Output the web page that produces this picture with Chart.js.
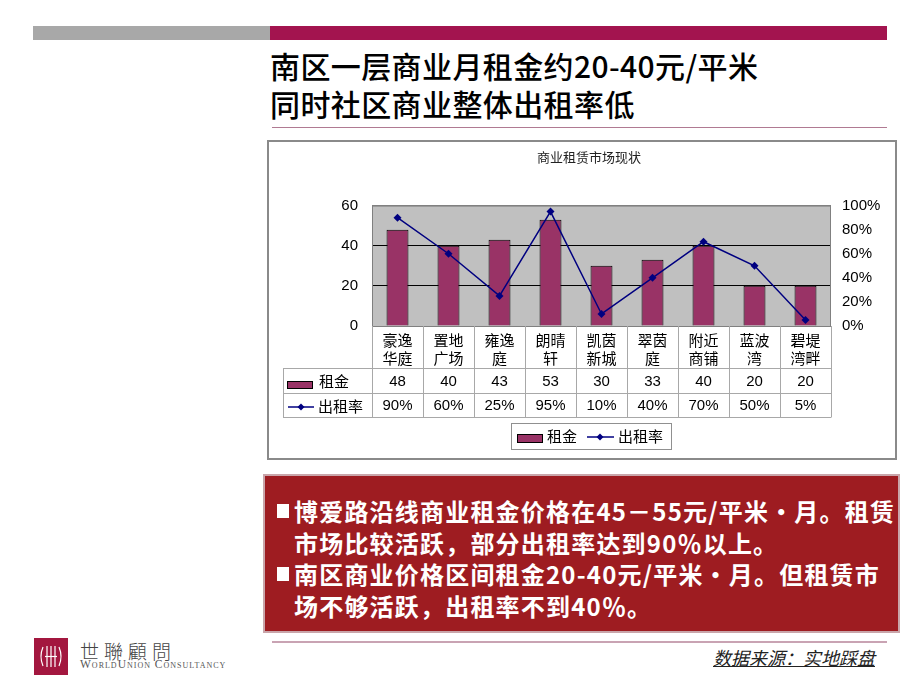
<!DOCTYPE html>
<html>

<head>
  <meta charset="utf-8">
  <title>商业租赁市场现状</title>
  <style>
    body {
      margin: 0;
      width: 920px;
      height: 690px;
      position: relative;
      background: #fff;
      font-family: "Noto Sans CJK SC", sans-serif;
      overflow: hidden;
    }

    .bar-gray {
      position: absolute;
      left: 33px;
      top: 26px;
      width: 237px;
      height: 14px;
      background: #a8a8a8;
    }

    .bar-red {
      position: absolute;
      left: 270px;
      top: 26px;
      width: 617px;
      height: 14px;
      background: #a3144f;
    }

    .headline {
      position: absolute;
      left: 270px;
      top: 46px;
      font-size: 30px;
      line-height: 38px;
      font-weight: 500;
      letter-spacing: 0.4px;
      color: #000;
      white-space: nowrap;
    }

    .rule {
      position: absolute;
      left: 272px;
      width: 615px;
      height: 1px;
      background: #b07a92;
    }

    .chart-box {
      position: absolute;
      left: 267px;
      top: 140px;
      width: 626px;
      height: 316px;
      border: 2px solid #8a8a8a;
    }

    .note {
      position: absolute;
      left: 263px;
      top: 474px;
      width: 633px;
      background: #9e1c21;
      border: 2px solid #c9a5aa;
      color: #fff;
      font-weight: bold;
      font-size: 24px;
      line-height: 31.7px;
      letter-spacing: 1.2px;
    }

    .note p {
      margin: 0;
      padding-left: 29px;
      position: relative;
      white-space: nowrap;
    }

    .note .sq {
      position: absolute;
      left: 12px;
      top: 9px;
      width: 12px;
      height: 14px;
      background: #fff;
    }

    .source {
      position: absolute;
      left: 713px;
      top: 644px;
      font-size: 18px;
      font-style: italic;
      text-decoration: underline;
      color: #222;
      white-space: nowrap;
    }

    .logo {
      position: absolute;
      left: 34px;
      top: 638px;
    }

    .brand {
      position: absolute;
      left: 80px;
      top: 637px;
      font-family: "Noto Sans CJK TC", serif;
      font-weight: 300;
      font-size: 19px;
      letter-spacing: 5px;
      color: #444;
      white-space: nowrap;
    }

    .brand-en {
      position: absolute;
      left: 80px;
      top: 658px;
      font-family: "Liberation Serif", serif;
      font-size: 11.5px;
      font-variant: small-caps;
      letter-spacing: 1px;
      color: #555;
      white-space: nowrap;
    }
  </style>
</head>

<body>
  <div class="bar-gray"></div>
  <div class="bar-red"></div>

  <div class="headline">南区一层商业月租金约20-40元/平米<br>同时社区商业整体出租率低</div>
  <div class="rule" style="top:127px"></div>

  <div class="chart-box">
    <canvas id="rent-chart" width="626" height="316"></canvas>
  </div>

  <div class="note" style="padding-top:19px; height:136px">
    <p><span class="sq"></span>博爱路沿线商业租金价格在45－55元/平米・月。租赁<br>市场比较活跃，部分出租率达到90％以上。</p>
    <p><span class="sq"></span>南区商业价格区间租金20-40元/平米・月。但租赁市<br>场不够活跃，出租率不到40％。</p>
  </div>

  <div class="rule" style="top:641px; height:2px; background:#c9a3b3"></div>
  <div class="source">数据来源：实地踩盘</div>

  <svg class="logo" width="34" height="37" viewBox="0 0 34 37">
    <rect width="34" height="37" fill="#a3173f" />
    <g fill="none" stroke="#fff" stroke-width="1.2">
      <path d="M9 9 Q5 18.5 9 28" />
      <path d="M25 9 Q29 18.5 25 28" />
      <path d="M13 8 V29 M17 8 V29 M21 8 V29" />
      <path d="M11 18.5 H23" />
    </g>
  </svg>
  <div class="brand">世聯顧問</div>
  <div class="brand-en">WorldUnion Consultancy</div>

  <script src="https://cdn.jsdelivr.net/npm/chart.js"></script>

  <script>
    const categories = [
      ['豪逸', '华庭'], ['置地', '广场'], ['雍逸', '庭'], ['朗晴', '轩'], ['凯茵', '新城'],
      ['翠茵', '庭'], ['附近', '商铺'], ['蓝波', '湾'], ['碧堤', '湾畔']
    ];
    const rentValues = [48, 40, 43, 53, 30, 33, 40, 20, 20];
    const occupancyRates = [90, 60, 25, 95, 10, 40, 70, 50, 5];
    const rentTicks = [0, 20, 40, 60];
    const rateTicks = [0, 20, 40, 60, 80, 100];

    const RENT_COLOR = '#993366';
    const RATE_COLOR = '#000080';
    const CJK = '"Noto Sans CJK SC", sans-serif';
    const LATIN = '"Liberation Sans", Arial, sans-serif';

    function drawDiamond(ctx, x, y, r) {
      ctx.beginPath();
      ctx.moveTo(x, y - r);
      ctx.lineTo(x + r, y);
      ctx.lineTo(x, y + r);
      ctx.lineTo(x - r, y);
      ctx.closePath();
      ctx.fill();
    }

    // plot background, data table under the axis, legend box
    const tableAndLegend = {
      id: 'tableAndLegend',
      beforeDraw(chart) {
        const { ctx, chartArea: a } = chart;
        ctx.save();
        ctx.fillStyle = '#c0c0c0';
        ctx.fillRect(a.left, a.top, a.width, a.height);
        ctx.restore();
      },
      afterDraw(chart) {
        const { ctx, chartArea: a } = chart;
        const x = chart.scales.x;
        const step = a.width / categories.length;
        const row1 = 226, row2 = 251, row3 = 275;
        const tableLeft = 14;

        ctx.save();
        // plot frame
        ctx.strokeStyle = '#808080';
        ctx.lineWidth = 1;
        ctx.strokeRect(a.left + 0.5, a.top + 0.5, a.width - 1, a.height);

        // table grid
        ctx.strokeStyle = '#a8a8a8';
        ctx.beginPath();
        [row1, row2, row3].forEach(y => {
          ctx.moveTo(tableLeft, y + 0.5);
          ctx.lineTo(a.right, y + 0.5);
        });
        for (let i = 0; i <= categories.length; i++) {
          const xx = Math.round(a.left + i * step) + 0.5;
          ctx.moveTo(xx, a.bottom);
          ctx.lineTo(xx, row3 + 0.5);
        }
        ctx.moveTo(tableLeft + 0.5, row1);
        ctx.lineTo(tableLeft + 0.5, row3 + 0.5);
        ctx.stroke();

        // values
        ctx.fillStyle = '#000';
        ctx.textAlign = 'center';
        ctx.textBaseline = 'middle';
        ctx.font = '15px ' + LATIN;
        rentValues.forEach((v, i) => {
          const cx = x.getPixelForValue(i);
          ctx.fillText(String(v), cx, (row1 + row2) / 2 + 1);
          ctx.fillText(occupancyRates[i] + '%', cx, (row2 + row3) / 2 + 1);
        });

        // row headers
        ctx.textAlign = 'left';
        ctx.font = '15px ' + CJK;
        ctx.fillStyle = RENT_COLOR;
        ctx.strokeStyle = '#000';
        ctx.fillRect(18, 239, 26, 8);
        ctx.strokeRect(18.5, 239.5, 25, 7);
        ctx.fillStyle = '#000';
        ctx.fillText('租金', 50, 239);
        ctx.strokeStyle = RATE_COLOR;
        ctx.lineWidth = 1.5;
        ctx.beginPath();
        ctx.moveTo(19, 265);
        ctx.lineTo(45, 265);
        ctx.stroke();
        ctx.fillStyle = RATE_COLOR;
        drawDiamond(ctx, 32, 265, 3.5);
        ctx.fillStyle = '#000';
        ctx.fillText('出租率', 49, 264);

        // legend box
        ctx.lineWidth = 1;
        ctx.strokeStyle = '#909090';
        ctx.strokeRect(242.5, 281.5, 160, 26);
        ctx.fillStyle = RENT_COLOR;
        ctx.strokeStyle = '#000';
        ctx.fillRect(248, 292, 26, 9);
        ctx.strokeRect(248.5, 292.5, 25, 8);
        ctx.fillStyle = '#000';
        ctx.fillText('租金', 278, 294);
        ctx.strokeStyle = RATE_COLOR;
        ctx.lineWidth = 1.5;
        ctx.beginPath();
        ctx.moveTo(318, 295);
        ctx.lineTo(345, 295);
        ctx.stroke();
        ctx.fillStyle = RATE_COLOR;
        drawDiamond(ctx, 331, 295, 3.5);
        ctx.fillStyle = '#000';
        ctx.fillText('出租率', 349, 294);
        ctx.restore();
      }
    };

    new Chart(document.getElementById('rent-chart'), {
      data: {
        labels: categories,
        datasets: [
          {
            type: 'line',
            label: '出租率',
            data: occupancyRates,
            yAxisID: 'y1',
            order: 0,
            borderColor: RATE_COLOR,
            backgroundColor: RATE_COLOR,
            borderWidth: 1.5,
            pointStyle: 'rectRot',
            pointRadius: 4,
            pointBackgroundColor: RATE_COLOR,
            pointBorderWidth: 0,
            tension: 0
          },
          {
            type: 'bar',
            label: '租金',
            data: rentValues,
            yAxisID: 'y',
            order: 1,
            backgroundColor: RENT_COLOR,
            borderColor: '#000',
            borderWidth: 1,
            categoryPercentage: 1,
            barPercentage: 0.43
          }
        ]
      },
      options: {
        responsive: false,
        devicePixelRatio: 1,
        animation: false,
        layout: { padding: { left: 14, right: 0, top: 0, bottom: 0 } },
        plugins: {
          legend: { display: false },
          tooltip: { enabled: false },
          title: {
            display: true,
            text: '商业租赁市场现状',
            color: '#222',
            font: { family: CJK, size: 13, weight: 'normal' },
            padding: { top: 7, bottom: 41 }
          }
        },
        scales: {
          x: {
            grid: { display: false, drawTicks: false },
            border: { display: false },
            ticks: {
              color: '#000',
              font: { family: CJK, size: 15, lineHeight: 1.15 },
              padding: 6,
              maxRotation: 0,
              autoSkip: false
            },
            afterFit(scale) { scale.height = 132; }
          },
          y: {
            position: 'left',
            min: 0,
            max: 60,
            afterBuildTicks(scale) { scale.ticks = rentTicks.map(v => ({ value: v })); },
            grid: {
              drawTicks: false,
              color: ctx => ctx.tick && ctx.tick.value === 60 ? '#808080' : '#000'
            },
            border: { display: false },
            ticks: { color: '#000', font: { family: LATIN, size: 15 }, padding: 14 },
            afterFit(scale) { scale.width = 89; }
          },
          y1: {
            position: 'right',
            min: 0,
            max: 100,
            afterBuildTicks(scale) { scale.ticks = rateTicks.map(v => ({ value: v })); },
            grid: { display: false, drawTicks: false },
            border: { display: false },
            ticks: {
              color: '#000',
              font: { family: LATIN, size: 15 },
              padding: 11,
              callback: v => v + '%'
            },
            afterFit(scale) { scale.width = 64; }
          }
        }
      },
      plugins: [tableAndLegend]
    });
  </script>
</body>

</html>
